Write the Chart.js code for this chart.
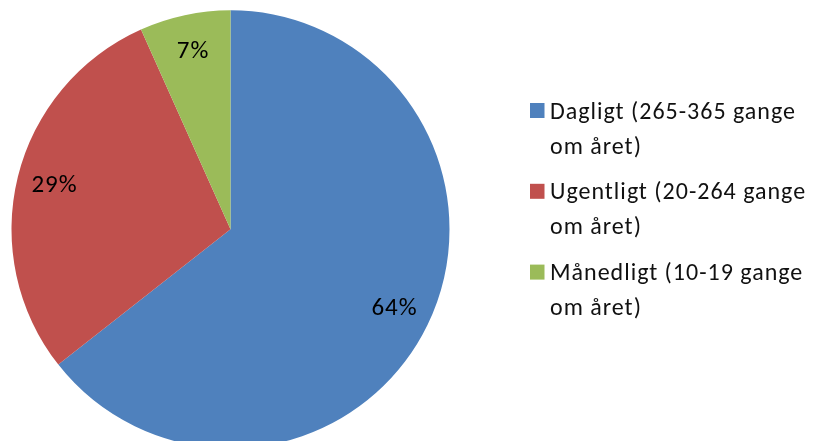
<!DOCTYPE html>
<html>
<head>
<meta charset="utf-8">
<script src="https://cdn.jsdelivr.net/npm/chart.js@4.4.0/dist/chart.umd.min.js"></script>
<style>
html,body{margin:0;padding:0;background:#fff;overflow:hidden;width:815px;height:441px;}
canvas{display:block;}
</style>
</head>
<body>
<canvas id="c" width="815" height="460"></canvas>
<script>
const categories = [
  ["Dagligt (265-365 gange", "om året)"],
  ["Ugentligt (20-264 gange", "om året)"],
  ["Månedligt (10-19 gange", "om året)"]
];
const shares = [64.4, 28.9, 6.7];
const colors = ["#4F81BD", "#C0504D", "#9BBB59"];

const FONT = "Carlito, Lato, sans-serif";

const labelPlugin = {
  id: 'sliceLabels',
  afterDatasetsDraw(chart) {
    const ctx = chart.ctx;
    const meta = chart.getDatasetMeta(0);
    const total = shares.reduce((a, b) => a + b, 0);
    ctx.save();
    ctx.font = "25px " + FONT;
    ctx.letterSpacing = "1px";
    ctx.fillStyle = "#000";
    ctx.textAlign = "left";
    ctx.textBaseline = "middle";
    meta.data.forEach((arc, i) => {
      const mid = (arc.startAngle + arc.endAngle) / 2;
      const r = arc.outerRadius * 0.83;
      const x = arc.x + Math.cos(mid) * r;
      const y = arc.y + Math.sin(mid) * r;
      const t = Math.round(shares[i] / total * 100) + "%";
      const w = ctx.measureText(t).width - 1;
      ctx.fillText(t, x - w / 2, y);
    });
    ctx.restore();
  }
};

const legendPlugin = {
  id: 'sideLegend',
  afterDraw(chart) {
    const ctx = chart.ctx;
    ctx.save();
    ctx.font = "24px " + FONT;
    ctx.letterSpacing = "1px";
    ctx.textBaseline = "alphabetic";
    ctx.textAlign = "left";
    const x0 = 530, textX = 550, base0 = 118.5, entryGap = 80.8, lineGap = 35;
    categories.forEach((lines, i) => {
      const b = base0 + i * entryGap;
      ctx.fillStyle = colors[i];
      ctx.fillRect(x0, b - 15.5, 14.5, 15);
      ctx.fillStyle = "#111";
      lines.forEach((t, j) => ctx.fillText(t, textX, b + j * lineGap));
    });
    ctx.restore();
  }
};

new Chart(document.getElementById('c'), {
  type: 'pie',
  data: {
    labels: categories,
    datasets: [{
      data: shares,
      backgroundColor: colors,
      borderWidth: 0
    }]
  },
  options: {
    responsive: false,
    devicePixelRatio: 1,
    animation: false,
    layout: { padding: { left: 11.5, top: 10.3, right: 365.5, bottom: 11.7 } },
    plugins: { legend: { display: false }, tooltip: { enabled: false } }
  },
  plugins: [labelPlugin, legendPlugin]
});
</script>
</body>
</html>
